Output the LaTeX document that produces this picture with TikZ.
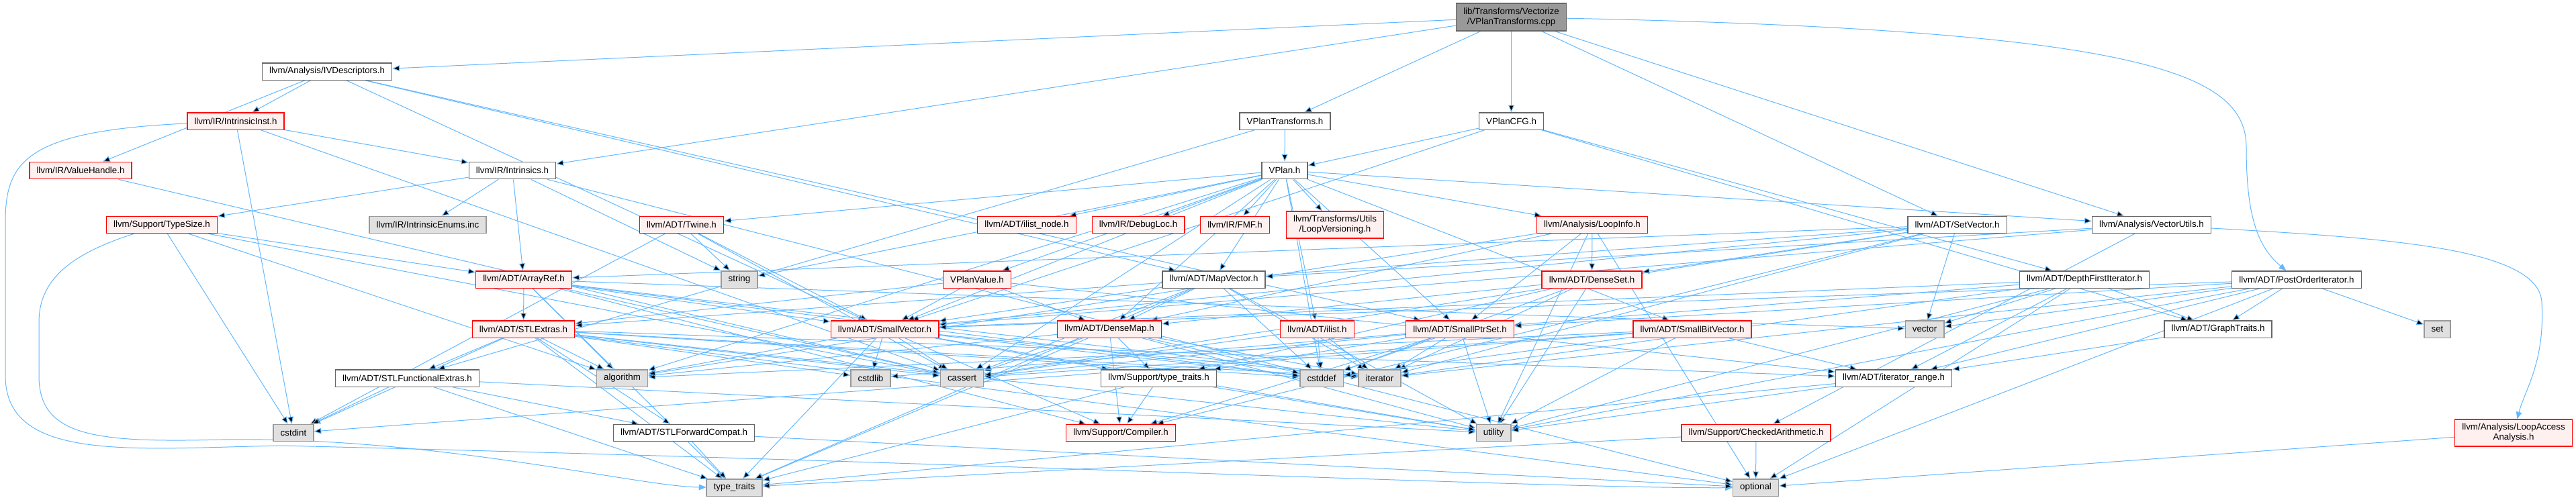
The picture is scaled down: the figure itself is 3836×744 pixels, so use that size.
\documentclass[tikz,border=0pt]{standalone}
\usepackage{fontspec}
\setmainfont{Liberation Sans}
\usepackage{xcolor}
\usetikzlibrary{positioning, arrows.meta, backgrounds}

\definecolor{edgeblue}{HTML}{63B8FF}
\definecolor{boxgrey}{HTML}{666666}
\definecolor{sysgrey}{HTML}{999999}
\definecolor{sysfill}{HTML}{E0E0E0}
\definecolor{truncfill}{HTML}{FFF0F0}

\begin{document}
\begin{tikzpicture}[
  x=0.75pt, y=-0.75pt,
  every node/.style={font=\fontsize{10}{11.25}\selectfont},
  filebox/.style={draw=boxgrey, fill=white, line width=1pt, minimum height=19pt,
                  inner xsep=8pt, inner ysep=0pt, align=center},
  truncbox/.style={filebox, draw=red, fill=truncfill},
  sysbox/.style={filebox, draw=sysgrey, fill=sysfill},
  mainbox/.style={filebox, fill=sysgrey, minimum height=30.75pt},
  arr/.style={-{Triangle[length=8pt, width=6.5pt]}, line width=0.75pt, draw=edgeblue}
]
\useasboundingbox (0,0) rectangle (3836,744);

% ---------- Source file ----------
\node[mainbox] (main) at (2250.5,25.5) {lib/Transforms/Vectorize\\/VPlanTransforms.cpp};

% ---------- Rank 1-3 ----------
\node[filebox]  (ivd)   at (487,106.5)   {llvm/Analysis/IVDescriptors.h};
\node[truncbox] (iinst) at (351,180.5)   {llvm/IR/IntrinsicInst.h};
\node[filebox]  (vpt)   at (1913.5,180.5) {VPlanTransforms.h};
\node[filebox]  (vcfg)  at (2250.5,180.5) {VPlanCFG.h};
\node[truncbox] (vh)    at (120,254)     {llvm/IR/ValueHandle.h};
\node[filebox]  (intr)  at (763,254)     {llvm/IR/Intrinsics.h};
\node[filebox]  (vplan) at (1913,254)    {VPlan.h};

% ---------- Rank 4 ----------
\node[truncbox] (tsize)  at (241,335)   {llvm/Support/TypeSize.h};
\node[sysbox]   (ienum)  at (637,335)   {llvm/IR/IntrinsicEnums.inc};
\node[truncbox] (twine)  at (1015,335)  {llvm/ADT/Twine.h};
\node[truncbox] (ilnode) at (1529,335)  {llvm/ADT/ilist\_node.h};
\node[truncbox] (dloc)   at (1695,335)  {llvm/IR/DebugLoc.h};
\node[truncbox] (fmf)    at (1839,335)  {llvm/IR/FMF.h};
\node[truncbox, minimum height=30pt] (lver) at (1988,335) {llvm/Transforms/Utils\\/LoopVersioning.h};
\node[truncbox] (linfo)  at (2371,335)  {llvm/Analysis/LoopInfo.h};
\node[filebox]  (setv)   at (2914.5,335) {llvm/ADT/SetVector.h};
\node[filebox]  (vutil)  at (3204,335)  {llvm/Analysis/VectorUtils.h};

% ---------- Rank 5 ----------
\node[truncbox] (aref) at (780,416.5)    {llvm/ADT/ArrayRef.h};
\node[sysbox]   (str)  at (1101,416.5)   {string};
\node[truncbox] (vpv)  at (1455,416.5)   {VPlanValue.h};
\node[filebox]  (mapv) at (1807.5,416.5) {llvm/ADT/MapVector.h};
\node[truncbox] (dset) at (2370.5,416.5) {llvm/ADT/DenseSet.h};
\node[filebox]  (dfi)  at (3104,416.5)   {llvm/ADT/DepthFirstIterator.h};
\node[filebox]  (poi)  at (3420,416.5)   {llvm/ADT/PostOrderIterator.h};

% ---------- Rank 6 ----------
\node[truncbox] (stlx)  at (779.5,490.5)  {llvm/ADT/STLExtras.h};
\node[truncbox] (svec)  at (1317.5,490.5) {llvm/ADT/SmallVector.h};
\node[truncbox] (dmap)  at (1652,490.5)   {llvm/ADT/DenseMap.h};
\node[truncbox] (ilist) at (1961.5,490.5) {llvm/ADT/ilist.h};
\node[truncbox] (sps)   at (2174,490.5)   {llvm/ADT/SmallPtrSet.h};
\node[truncbox] (sbv)   at (2520,490.5)   {llvm/ADT/SmallBitVector.h};
\node[sysbox]   (vec)   at (2866,490.5)   {vector};
\node[filebox]  (gtr)   at (3303,490.5)   {llvm/ADT/GraphTraits.h};
\node[sysbox]   (set)   at (3629.5,490.5) {set};

% ---------- Rank 7 ----------
\node[filebox] (stlfx)   at (606.5,563.5)  {llvm/ADT/STLFunctionalExtras.h};
\node[sysbox]  (algo)    at (926.5,563.5)  {algorithm};
\node[sysbox]  (cstdlib) at (1296.5,563.5) {cstdlib};
\node[sysbox]  (cassert) at (1432.5,563.5) {cassert};
\node[filebox] (stt)     at (1725.5,563.5) {llvm/Support/type\_traits.h};
\node[sysbox]  (cstddef) at (1968,563.5)   {cstddef};
\node[sysbox]  (iter)    at (2054.5,563.5) {iterator};
\node[filebox] (itr)     at (2820,563.5)   {llvm/ADT/iterator\_range.h};

% ---------- Rank 8-9 ----------
\node[sysbox]   (cstdint) at (437,645)    {cstdint};
\node[filebox]  (stlfc)   at (1018.5,645) {llvm/ADT/STLForwardCompat.h};
\node[truncbox] (comp)    at (1669,645)   {llvm/Support/Compiler.h};
\node[sysbox]   (util)    at (2224,645)   {utility};
\node[truncbox] (carith)  at (2615,645)   {llvm/Support/CheckedArithmetic.h};
\node[truncbox, minimum height=30pt] (laa) at (3743,645) {llvm/Analysis/LoopAccess\\Analysis.h};
\node[sysbox]   (tt)      at (1093.5,726.5) {type\_traits};
\node[sysbox]   (opt)     at (2614.5,726.5) {optional};

% ---------- Include edges ----------
\begin{scope}[on background layer]
% source file
\draw[arr] (main) edge (vpt) edge (vcfg) edge (ivd) edge (intr) edge (setv) edge (vutil);
\draw[arr] (main) .. controls (3200,45) and (3345,110) .. (3345,220)
                  .. controls (3345,330) and (3365,370) .. (poi);
% VPlanTransforms.h, VPlanCFG.h
\draw[arr] (vpt) edge (vplan) edge (stlfx);
\draw[arr] (vcfg) edge (vplan) edge (dfi) edge (gtr) edge (svec);
% VPlan.h
\draw[arr] (vplan) edge (vpv) edge (dmap) edge (mapv) edge (sbv) edge (sps) edge (svec)
  edge (twine) edge (ilist) edge (ilnode) edge (linfo) edge (vutil) edge (dloc) edge (fmf)
  edge (lver) edge (algo) edge (cassert) edge (cstddef) edge (str);
% VPlanValue.h
\draw[arr] (vpv) edge (dmap) edge (stlx) edge (svec) edge (itr);
% IVDescriptors.h
\draw[arr] (ivd) edge (iinst) edge (vh) edge (mapv) edge (sps) edge (svec);
% IntrinsicInst.h
\draw[arr] (iinst) edge (intr) edge (cassert) edge (cstdint);
\draw[arr] (iinst) .. controls (40,195) and (8,240) .. (8,330) -- (8,560)
                   .. controls (8,690) and (200,668) .. (420,664)
                   .. controls (1500,690) and (2300,728) .. (opt);
% Intrinsics.h
\draw[arr] (intr) edge (ienum) edge (aref) edge (tsize) edge (str) edge (opt);
% ValueHandle.h
\draw[arr] (vh) edge (cassert);
% TypeSize.h
\draw[arr] (tsize) edge (aref) edge (algo) edge (cassert) edge (cstdint);
\draw[arr] (tsize) .. controls (100,380) and (58,420) .. (58,480) -- (58,560)
                   .. controls (58,650) and (140,660) .. (330,655)
                   .. controls (650,650) and (950,725) .. (tt);
% Twine.h
\draw[arr] (twine) edge (svec) edge (cassert) edge (cstdint) edge (str);
% ArrayRef.h
\draw[arr] (aref) edge (stlx) edge (svec) edge (comp) edge (algo) edge (cassert)
  edge (cstddef) edge (iter) edge (tt) edge (vec);
% STLExtras.h
\draw[arr] (stlx) edge (stlfc) edge (stlfx) edge (itr) edge (algo) edge (cassert)
  edge (cstddef) edge (cstdint) edge (cstdlib) edge (iter) edge (opt) edge (tt) edge (util);
% SmallVector.h
\draw[arr] (svec) edge (comp) edge (stt) edge (algo) edge (cassert) edge (cstddef)
  edge (cstdlib) edge (iter) edge (tt) edge (util);
% DenseMap.h
\draw[arr] (dmap) edge (comp) edge (stt) edge (algo) edge (cassert) edge (cstddef)
  edge (iter) edge (tt) edge (util);
% MapVector.h
\draw[arr] (mapv) edge (dmap) edge (svec) edge (cassert) edge (cstddef) edge (iter)
  edge (tt) edge (util);
% SetVector.h
\draw[arr] (setv) edge (aref) edge (dset) edge (stlx) edge (svec) edge (comp)
  edge (cassert) edge (iter) edge (vec);
% DenseSet.h
\draw[arr] (dset) edge (dmap) edge (stt) edge (cstddef) edge (iter) edge (util);
% SmallPtrSet.h
\draw[arr] (sps) edge (comp) edge (stt) edge (cassert) edge (cstddef) edge (cstdlib)
  edge (iter) edge (util);
% SmallBitVector.h
\draw[arr] (sbv) edge (itr) edge (algo) edge (cassert) edge (cstddef) edge (cstdint) edge (util);
% ilist.h
\draw[arr] (ilist) edge (cassert) edge (cstddef) edge (iter);
% LoopInfo.h
\draw[arr] (linfo) edge (dmap) edge (dset) edge (sps) edge (algo) edge (opt) edge (util);
% VectorUtils.h
\draw[arr] (vutil) edge (mapv) edge (svec) edge (carith);
\draw[arr] (vutil) .. controls (3560,355) and (3780,370) .. (3785,450)
                   .. controls (3790,540) and (3760,580) .. (laa);
% DepthFirstIterator.h
\draw[arr] (dfi) edge (gtr) edge (sps) edge (svec) edge (itr) edge (iter) edge (opt)
  edge (util) edge (vec);
% PostOrderIterator.h
\draw[arr] (poi) edge (gtr) edge (sps) edge (svec) edge (itr) edge (iter) edge (opt)
  edge (set) edge (util) edge (vec);
% leaf-level headers
\draw[arr] (gtr) edge (itr);
\draw[arr] (itr) edge (tt) edge (util);
\draw[arr] (stlfx) edge (stlfc) edge (cstdint) edge (tt) edge (util);
\draw[arr] (stlfc) edge (opt) edge (tt);
\draw[arr] (stt) edge (comp) edge (tt) edge (util);
\draw[arr] (carith) edge (opt) edge (tt);
\draw[arr] (laa) edge (opt);
\end{scope}

\end{tikzpicture}
\end{document}
